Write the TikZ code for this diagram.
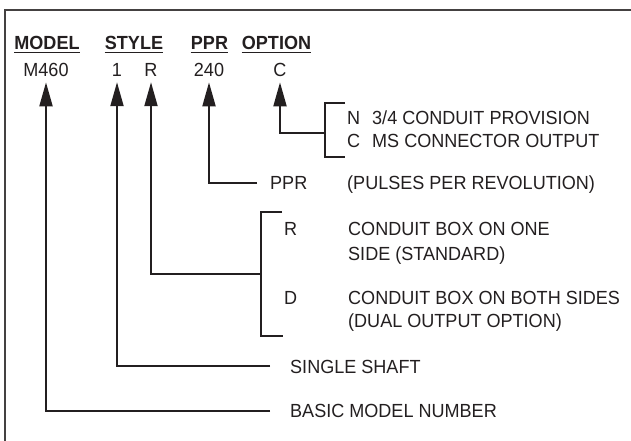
\documentclass[tikz,border=0pt]{standalone}
\usepackage{fontspec}
\setmainfont[FakeStretch=0.95]{Liberation Sans}
\usetikzlibrary{arrows.meta}
\definecolor{ink}{HTML}{231F20}
\tikzset{
  txt/.style={inner sep=0pt, anchor=base west, text=ink, font=\fontsize{19bp}{22bp}\selectfont},
  hdr/.style={inner sep=0pt, anchor=base, text=ink, font=\fontsize{19bp}{22bp}\selectfont\bfseries},
  val/.style={inner sep=0pt, anchor=base, text=ink, font=\fontsize{19bp}{22bp}\selectfont},
  conn/.style={draw=ink, line width=2bp, -{Triangle[length=24bp,width=13bp]}},
  brk/.style={draw=ink, line width=2bp},
  ul/.style={draw=ink, line width=1.5bp},
  frm/.style={draw=ink!85, line width=2bp}
}
\begin{document}
\begin{tikzpicture}[x=1bp,y=-1bp]
\useasboundingbox (0,0) rectangle (631,441);
\draw[frm] (5,441) -- (5,10) -- (631,10);
% headers
\node[hdr] (hmodel) at (47,50) {MODEL};
\node[hdr] (hstyle) at (134,50) {STYLE};
\node[hdr] (hppr) at (209.5,50) {PPR};
\node[hdr] (hopt) at (276.5,50) {OPTION};
\foreach \n in {hmodel,hstyle,hppr,hopt}
  \draw[ul] ([yshift=-2.5bp]\n.base west) -- ([yshift=-2.5bp]\n.base east);
% values
\node[val] (vm) at (46,77) {M460};
\node[val] (v1) at (117,77) {1};
\node[val] (vr) at (151,77) {R};
\node[val] (vp) at (209,77) {240};
\node[val] (vc) at (280,77) {C};
% option bracket
\node[txt] (optn) at (347,125) {N};
\node[txt] (optnt) at (372,125) {3/4 CONDUIT PROVISION};
\node[txt] (optc) at (347,148) {C};
\node[txt] (optct) at (372,148) {MS CONNECTOR OUTPUT};
\draw[brk] (345,103) -- (325,103) -- (325,157) -- (345,157);
\coordinate (copt) at (325,133);
\draw[conn] (copt) -| ([yshift=-5bp]vc.south);
% PPR
\node[txt] (pprl) at (270,190) {PPR};
\node[txt] (pprt) at (347,190) {(PULSES PER REVOLUTION)};
\coordinate (cppr) at (257,183);
\draw[conn] (cppr) -| ([yshift=-5bp]vp.south);
% style R / D
\node[txt] (sr) at (284,236) {R};
\node[txt] (srt1) at (348,236) {CONDUIT BOX ON ONE};
\node[txt] (srt2) at (348,261) {SIDE (STANDARD)};
\node[txt] (sd) at (284,305) {D};
\node[txt] (sdt1) at (348,305) {CONDUIT BOX ON BOTH SIDES};
\node[txt] (sdt2) at (348,327) {(DUAL OUTPUT OPTION)};
\draw[brk] (282,212) -- (261,212) -- (261,336) -- (283,336);
\coordinate (cstyle) at (261,274);
\draw[conn] (cstyle) -| ([yshift=-5bp]vr.south);
% single shaft
\node[txt] (ss) at (290,373) {SINGLE SHAFT};
\coordinate (css) at (270,366);
\draw[conn] (css) -| ([yshift=-5bp]v1.south);
% basic model
\node[txt] (bm) at (290,417) {BASIC MODEL NUMBER};
\coordinate (cbm) at (270,411);
\draw[conn] (cbm) -| ([yshift=-5bp]vm.south);
\end{tikzpicture}
\end{document}
